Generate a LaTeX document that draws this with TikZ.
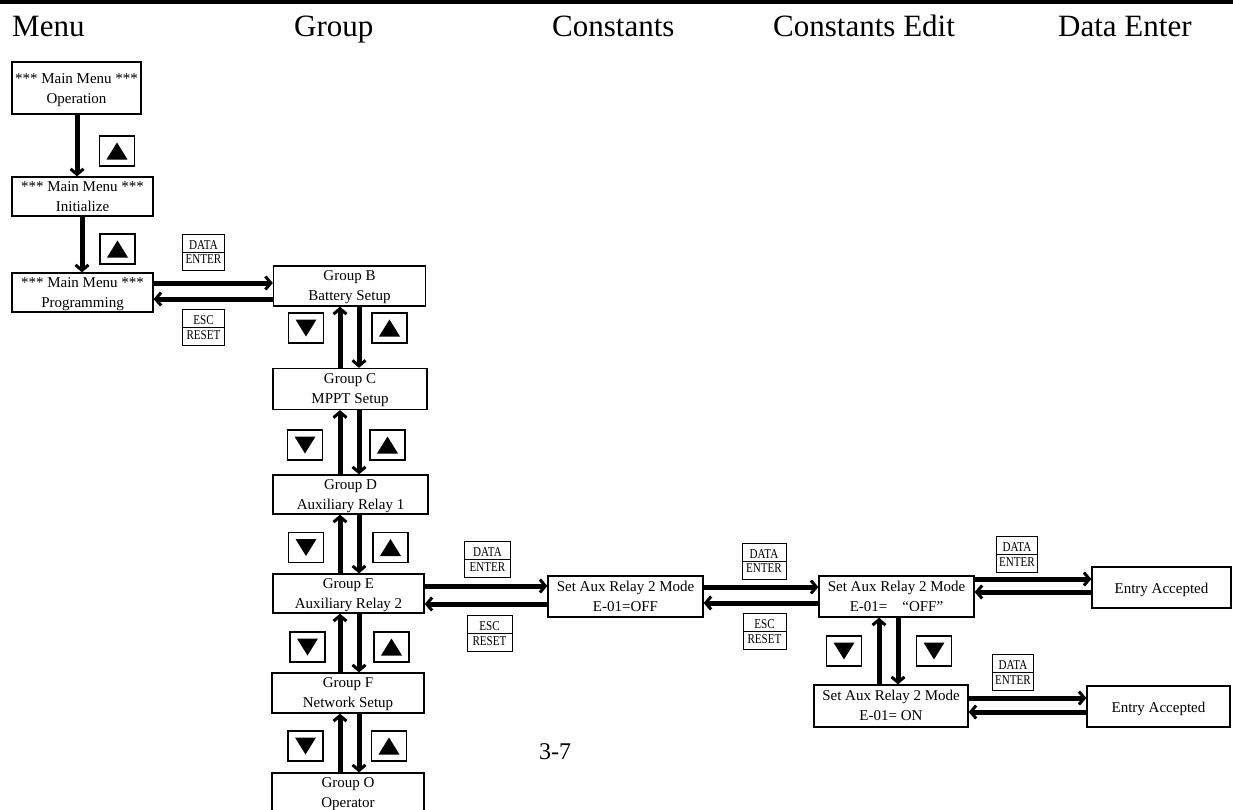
\documentclass[tikz,border=0pt]{standalone}
\usepackage{fontspec}
\setmainfont{Liberation Serif}
\newfontfamily\keyfont[FakeStretch=0.82]{Liberation Serif}
\usetikzlibrary{arrows.meta,calc}
\tikzset{
 box/.style={draw, line width=1.3pt, inner sep=0pt, align=center, font=\fontsize{15}{20}\selectfont,
   text height=31pt, text depth=2pt},
 onebox/.style={box, text height=11pt, text depth=0pt},
 arr/.style={line width=5pt, -{Straight Barb[length=5.5pt,width=13pt,line width=3pt]}},
 tri/.style={draw, line width=1.3pt, minimum width=35pt, minimum height=30pt, inner sep=0pt},
 upkey/.style={tri, path picture={\fill ($(path picture bounding box.center)+(-10.5pt,-8.5pt)$) -- ++(21pt,0pt) -- ($(path picture bounding box.center)+(0pt,8.5pt)$) -- cycle;}},
 dnkey/.style={tri, path picture={\fill ($(path picture bounding box.center)+(-10.5pt,8.5pt)$) -- ++(21pt,0pt) -- ($(path picture bounding box.center)+(0pt,-8.5pt)$) -- cycle;}},
 key/.style={draw, line width=1pt, minimum width=42pt, minimum height=36pt, inner sep=0pt, align=center, font=\keyfont\fontsize{13.5}{14.5}\selectfont, path picture={\draw[line width=1pt] (path picture bounding box.west) -- (path picture bounding box.east);}},
 head/.style={anchor=base west, inner sep=0pt, font=\fontsize{31}{36}\selectfont}
}
\begin{document}
\begin{tikzpicture}[x=1pt,y=-1pt]
\useasboundingbox (0,0) rectangle (1233,809);
\clip (0,0) rectangle (1233,809);
\draw[line width=4pt] (0,2) -- (1233,2);
% headers
\node[head] (h1) at (12,36) {Menu};
\node[head] (h2) at (294,36) {Group};
\node[head] (h3) at (552,36) {Constants};
\node[head] (h4) at (773,36) {Constants Edit};
\node[head] (h5) at (1058,36) {Data Enter};
% menu boxes
\node[box, minimum width=129pt, minimum height=52pt, text height=32pt, text depth=2pt] (op) at (76.5,88) {*** Main Menu ***\\Operation};
\node[box, minimum width=141pt, minimum height=39pt] (init) at (82.5,196.5) {*** Main Menu ***\\Initialize};
\node[box, minimum width=141pt, minimum height=39pt] (prog) at (82.5,292.5) {*** Main Menu ***\\Programming};
% group boxes
\node[box, minimum width=152pt, minimum height=40pt] (gb) at (349.5,286) {Group B\\Battery Setup};
\node[box, minimum width=154pt, minimum height=41pt] (gc) at (350,389) {Group C\\MPPT Setup};
\node[box, minimum width=155pt, minimum height=39pt] (gd) at (350.5,494.5) {Group D\\Auxiliary Relay 1};
\node[box, minimum width=151pt, minimum height=39pt] (ge) at (348.5,593.5) {Group E\\Auxiliary Relay 2};
\node[box, minimum width=152pt, minimum height=40pt] (gf) at (348,693) {Group F\\Network Setup};
\node[box, minimum width=152pt, minimum height=40pt] (go) at (348,793) {Group O\\Operator};
% constants
\node[box, minimum width=155pt, minimum height=41pt] (sa1) at (625.5,596.5) {Set Aux Relay 2 Mode\\E-01=OFF};
\node[box, minimum width=155pt, minimum height=41pt] (sa2) at (896.5,596.5) {Set Aux Relay 2 Mode\\E-01=\quad “OFF”};
\node[box, minimum width=154pt, minimum height=42pt] (sa3) at (891,706) {Set Aux Relay 2 Mode\\E-01= ON};
\node[onebox, minimum width=139pt, minimum height=41pt] (ea1) at (1161.5,587.5) {Entry Accepted};
\node[onebox, minimum width=143pt, minimum height=41pt] (ea2) at (1158.5,706.5) {Entry Accepted};
% menu arrows
\draw[arr] (77,0 |- op.south) -- (77,0 |- init.north);
\draw[arr] (82,0 |- init.south) -- (82,0 |- prog.north);
\draw[arr] (prog.east |- 0,283) -- (gb.west |- 0,283);
\draw[arr] (gb.west |- 0,299) -- (prog.east |- 0,299);
% group arrows
\draw[arr] (340,0 |- gc.north) -- (340,0 |- gb.south);
\draw[arr] (359,0 |- gb.south) -- (359,0 |- gc.north);
\draw[arr] (340,0 |- gd.north) -- (340,0 |- gc.south);
\draw[arr] (359,0 |- gc.south) -- (359,0 |- gd.north);
\draw[arr] (340,0 |- ge.north) -- (340,0 |- gd.south);
\draw[arr] (359,0 |- gd.south) -- (359,0 |- ge.north);
\draw[arr] (340,0 |- gf.north) -- (340,0 |- ge.south);
\draw[arr] (359,0 |- ge.south) -- (359,0 |- gf.north);
\draw[arr] (340,0 |- go.north) -- (340,0 |- gf.south);
\draw[arr] (359,0 |- gf.south) -- (359,0 |- go.north);
% horizontal arrows
\draw[arr] (ge.east |- 0,586) -- (sa1.west |- 0,586);
\draw[arr] (sa1.west |- 0,604) -- (ge.east |- 0,604);
\draw[arr] (sa1.east |- 0,587) -- (sa2.west |- 0,587);
\draw[arr] (sa2.west |- 0,603) -- (sa1.east |- 0,603);
\draw[arr] (sa2.east |- 0,579) -- (ea1.west |- 0,579);
\draw[arr] (ea1.west |- 0,592) -- (sa2.east |- 0,592);
\draw[arr] (sa3.east |- 0,698) -- (ea2.west |- 0,698);
\draw[arr] (ea2.west |- 0,712) -- (sa3.east |- 0,712);
\draw[arr] (879,0 |- sa3.north) -- (879,0 |- sa2.south);
\draw[arr] (898,0 |- sa2.south) -- (898,0 |- sa3.north);
% keys
\node[upkey] (k1) at (117,151) {};
\node[upkey] (k2) at (117.5,249) {};
\node[key] (d1) at (203.5,252) {DATA\\ENTER};
\node[key] (e1) at (203.5,327.5) {ESC\\RESET};
\node[dnkey] (k3) at (306,328) {};
\node[upkey] (k4) at (389.5,328) {};
\node[dnkey] (k5) at (305,445) {};
\node[upkey] (k6) at (387.5,445) {};
\node[dnkey] (k7) at (306,547.5) {};
\node[upkey] (k8) at (390.5,547.5) {};
\node[dnkey] (k9) at (307.5,647) {};
\node[upkey] (k10) at (391.5,647) {};
\node[dnkey] (k11) at (305.5,746) {};
\node[upkey] (k12) at (389,746) {};
\node[key, minimum width=46pt] (d2) at (487.5,559.5) {DATA\\ENTER};
\node[key, minimum width=45pt] (e2) at (489.5,633.5) {ESC\\RESET};
\node[key, minimum width=44pt] (d3) at (764,561) {DATA\\ENTER};
\node[key, minimum width=43pt] (e3) at (764.5,631.5) {ESC\\RESET};
\node[key, minimum width=41pt] (d4) at (1017,554.5) {DATA\\ENTER};
\node[key, minimum width=41pt] (d5) at (1013,672.5) {DATA\\ENTER};
\node[dnkey] (k13) at (844,651) {};
\node[dnkey] (k14) at (934,651) {};
\node[font=\fontsize{24}{28}\selectfont] (pg) at (555,752) {3-7};
\end{tikzpicture}
\end{document}
